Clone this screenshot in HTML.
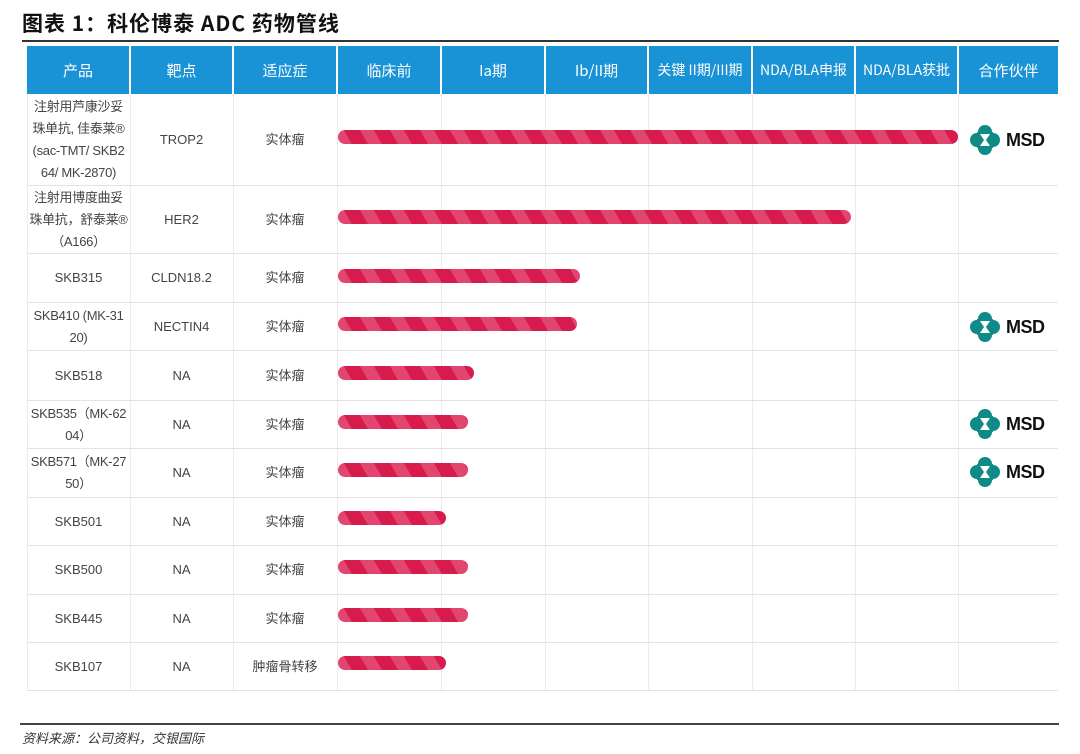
<!DOCTYPE html>
<html><head><meta charset="utf-8">
<style>
body{margin:0;width:1080px;height:754px;background:#fff;position:relative;overflow:hidden;font-family:"Liberation Sans","Noto Sans CJK SC",sans-serif;}
.abs{position:absolute;}
.title{left:22px;top:8px;font-size:21px;font-weight:bold;color:#111;letter-spacing:1px;font-family:"Noto Sans CJK SC","Liberation Sans",sans-serif;}
.hdr{background:#1a93d6;color:#fff;font-size:15px;display:flex;align-items:center;justify-content:center;top:46px;height:48px;font-family:"Noto Sans CJK SC",sans-serif;white-space:nowrap;}
.cell{display:flex;align-items:center;justify-content:center;text-align:center;font-size:13px;color:#444;line-height:22px;white-space:nowrap;font-family:"Liberation Sans","Noto Sans CJK SC",sans-serif;}
.c1{letter-spacing:-0.3px;}
.bar{height:14px;border-radius:7px;background:repeating-linear-gradient(60deg,#e24670 0 12px,#d81b4d 12px 26px);}
.vl{width:1px;background:#ececec;}
.hl{height:1px;background:#e3e3e3;left:27px;width:1031px;}
.msd{left:970px;width:85px;height:30px;display:flex;align-items:center;}
.msd span{font-weight:bold;font-size:18px;color:#111;margin-left:6px;letter-spacing:-0.5px;}
</style></head><body>
<div class="abs title">图表 1：科伦博泰 ADC 药物管线</div>
<div class="abs" style="left:22px;top:40px;width:1037px;height:2px;background:#333"></div>

<div class="abs hdr" style="left:27px;width:102px">产品</div>
<div class="abs hdr" style="left:131px;width:101px">靶点</div>
<div class="abs hdr" style="left:234px;width:102px">适应症</div>
<div class="abs hdr" style="left:338px;width:102px">临床前</div>
<div class="abs hdr" style="left:442px;width:102px">Ia期</div>
<div class="abs hdr" style="left:546px;width:101px">Ib/II期</div>
<div class="abs hdr" style="left:649px;width:102px;font-size:14px">关键 II期/III期</div>
<div class="abs hdr" style="left:753px;width:101px;font-size:14px">NDA/BLA申报</div>
<div class="abs hdr" style="left:856px;width:101px;font-size:14px">NDA/BLA获批</div>
<div class="abs hdr" style="left:959px;width:99px">合作伙伴</div>

<div class="abs vl" style="left:27px;top:94px;height:596px"></div>
<div class="abs vl" style="left:130px;top:94px;height:596px"></div>
<div class="abs vl" style="left:233px;top:94px;height:596px"></div>
<div class="abs vl" style="left:337px;top:94px;height:596px"></div>
<div class="abs vl" style="left:441px;top:94px;height:596px"></div>
<div class="abs vl" style="left:545px;top:94px;height:596px"></div>
<div class="abs vl" style="left:648px;top:94px;height:596px"></div>
<div class="abs vl" style="left:752px;top:94px;height:596px"></div>
<div class="abs vl" style="left:855px;top:94px;height:596px"></div>
<div class="abs vl" style="left:958px;top:94px;height:596px"></div>

<div class="abs hl" style="top:185px"></div>
<div class="abs hl" style="top:253px"></div>
<div class="abs hl" style="top:302px"></div>
<div class="abs hl" style="top:350px"></div>
<div class="abs hl" style="top:400px"></div>
<div class="abs hl" style="top:448px"></div>
<div class="abs hl" style="top:497px"></div>
<div class="abs hl" style="top:545px"></div>
<div class="abs hl" style="top:594px"></div>
<div class="abs hl" style="top:642px"></div>
<div class="abs hl" style="top:690px"></div>

<svg width="0" height="0" style="position:absolute"><defs>
<symbol id="lg" viewBox="0 0 30 30">
<circle cx="15" cy="7" r="7" fill="#0f8a86"/><circle cx="15" cy="23" r="7" fill="#0f8a86"/>
<circle cx="7" cy="15" r="7" fill="#0f8a86"/><circle cx="23" cy="15" r="7" fill="#0f8a86"/>
<rect x="7" y="7" width="16" height="16" fill="#0f8a86"/>
<polygon points="10,9 20,9 16,15 20,21 10,21 14,15" fill="#fff"/>
</symbol></defs></svg>

<div class="abs cell c1" style="left:27px;top:95px;width:103px;height:90px">注射用芦康沙妥<br>珠单抗, 佳泰莱®<br>(sac-TMT/ SKB2<br>64/ MK-2870)</div>
<div class="abs cell" style="left:130px;top:95px;width:103px;height:90px">TROP2</div>
<div class="abs cell" style="left:233px;top:95px;width:104px;height:90px">实体瘤</div>
<div class="abs bar" style="left:338px;top:130px;width:620px"></div>
<div class="abs msd" style="top:125px"><svg width="30" height="30"><use href="#lg"/></svg><span>MSD</span></div>

<div class="abs cell c1" style="left:27px;top:186px;width:103px;height:67px">注射用博度曲妥<br>珠单抗，舒泰莱®<br>（A166）</div>
<div class="abs cell" style="left:130px;top:186px;width:103px;height:67px">HER2</div>
<div class="abs cell" style="left:233px;top:186px;width:104px;height:67px">实体瘤</div>
<div class="abs bar" style="left:338px;top:210px;width:513px"></div>

<div class="abs cell" style="left:27px;top:254px;width:103px;height:48px">SKB315</div>
<div class="abs cell" style="left:130px;top:254px;width:103px;height:48px">CLDN18.2</div>
<div class="abs cell" style="left:233px;top:254px;width:104px;height:48px">实体瘤</div>
<div class="abs bar" style="left:338px;top:269px;width:242px"></div>

<div class="abs cell c1" style="left:27px;top:303px;width:103px;height:47px">SKB410 (MK-31<br>20)</div>
<div class="abs cell" style="left:130px;top:303px;width:103px;height:47px">NECTIN4</div>
<div class="abs cell" style="left:233px;top:303px;width:104px;height:47px">实体瘤</div>
<div class="abs bar" style="left:338px;top:317px;width:239px"></div>
<div class="abs msd" style="top:312px"><svg width="30" height="30"><use href="#lg"/></svg><span>MSD</span></div>

<div class="abs cell" style="left:27px;top:351px;width:103px;height:49px">SKB518</div>
<div class="abs cell" style="left:130px;top:351px;width:103px;height:49px">NA</div>
<div class="abs cell" style="left:233px;top:351px;width:104px;height:49px">实体瘤</div>
<div class="abs bar" style="left:338px;top:366px;width:136px"></div>

<div class="abs cell c1" style="left:27px;top:401px;width:103px;height:47px">SKB535（MK-62<br>04）</div>
<div class="abs cell" style="left:130px;top:401px;width:103px;height:47px">NA</div>
<div class="abs cell" style="left:233px;top:401px;width:104px;height:47px">实体瘤</div>
<div class="abs bar" style="left:338px;top:415px;width:130px"></div>
<div class="abs msd" style="top:409px"><svg width="30" height="30"><use href="#lg"/></svg><span>MSD</span></div>

<div class="abs cell c1" style="left:27px;top:449px;width:103px;height:48px">SKB571（MK-27<br>50）</div>
<div class="abs cell" style="left:130px;top:449px;width:103px;height:48px">NA</div>
<div class="abs cell" style="left:233px;top:449px;width:104px;height:48px">实体瘤</div>
<div class="abs bar" style="left:338px;top:463px;width:130px"></div>
<div class="abs msd" style="top:457px"><svg width="30" height="30"><use href="#lg"/></svg><span>MSD</span></div>

<div class="abs cell" style="left:27px;top:498px;width:103px;height:47px">SKB501</div>
<div class="abs cell" style="left:130px;top:498px;width:103px;height:47px">NA</div>
<div class="abs cell" style="left:233px;top:498px;width:104px;height:47px">实体瘤</div>
<div class="abs bar" style="left:338px;top:511px;width:108px"></div>

<div class="abs cell" style="left:27px;top:546px;width:103px;height:48px">SKB500</div>
<div class="abs cell" style="left:130px;top:546px;width:103px;height:48px">NA</div>
<div class="abs cell" style="left:233px;top:546px;width:104px;height:48px">实体瘤</div>
<div class="abs bar" style="left:338px;top:560px;width:130px"></div>

<div class="abs cell" style="left:27px;top:595px;width:103px;height:47px">SKB445</div>
<div class="abs cell" style="left:130px;top:595px;width:103px;height:47px">NA</div>
<div class="abs cell" style="left:233px;top:595px;width:104px;height:47px">实体瘤</div>
<div class="abs bar" style="left:338px;top:608px;width:130px"></div>

<div class="abs cell" style="left:27px;top:643px;width:103px;height:47px">SKB107</div>
<div class="abs cell" style="left:130px;top:643px;width:103px;height:47px">NA</div>
<div class="abs cell" style="left:233px;top:643px;width:104px;height:47px">肿瘤骨转移</div>
<div class="abs bar" style="left:338px;top:656px;width:108px"></div>

<div class="abs" style="left:20px;top:723px;width:1039px;height:2px;background:#444"></div>
<div class="abs" style="left:22px;top:728px;font-size:13px;color:#333;font-style:italic;font-family:'Noto Sans CJK SC',sans-serif">资料来源：公司资料，交银国际</div>
</body></html>
